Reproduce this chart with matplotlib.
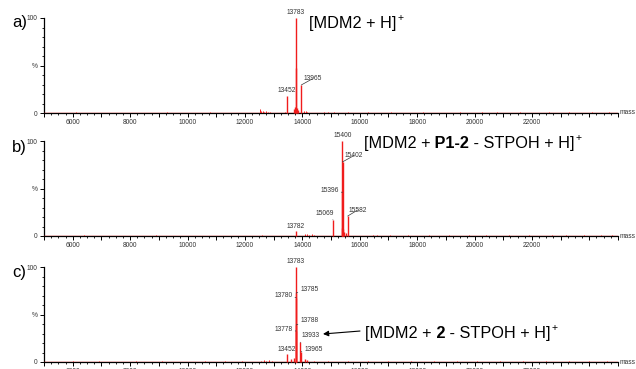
import matplotlib
matplotlib.use("Agg")
import matplotlib.pyplot as plt
import matplotlib.transforms as mtransforms
from matplotlib.ticker import MultipleLocator, FuncFormatter

plt.rcParams['font.family'] = ['Liberation Sans', 'DejaVu Sans']

# ---------------- data ----------------
# panel a  [MDM2 + H]+
peaks_mass_a = [13452, 13775, 13783, 13965, 13720, 13750, 13820, 13850]
peaks_int_a = [18, 47, 100, 29.5, 4, 6, 5, 3]
labels_a = ["13783", "13452", "13965"]
label_mass_a = [13783, 13452, 13965]
label_int_a = [100, 18, 29.5]

noise_mass_a = [12520, 12560, 12620, 12680, 12740, 12800, 12880, 13380, 14050, 14120, 14180,
                14750, 14900, 15100, 15600, 16300, 17100, 18200, 19500, 20250, 20800,
                21600, 22600, 23300, 24100, 24700, 9300, 10800, 6100]
noise_int_a = [4, 2, 2.5, 1.5, 2, 1.5, 1, 1.5, 2, 2.5, 1.5,
               1.5, 1, 1, 1, 0.8, 0.8, 0.8, 0.8, 1.5, 0.8,
               0.8, 0.8, 0.8, 0.8, 0.8, 0.6, 0.6, 0.6]

# panel b  [MDM2 + P1-2 - STPOH + H]+
peaks_mass_b = [13782, 15069, 15396, 15400, 15402, 15582, 15380, 15430, 15470, 15520]
peaks_int_b = [5, 17, 46, 100, 78, 21, 8, 7, 4, 3]
labels_b = ["15400", "15402", "15396", "15069", "15582", "13782"]
label_mass_b = [15400, 15402, 15396, 15069, 15582, 13782]
label_int_b = [100, 78, 46, 17, 21, 5]

noise_mass_b = [14100, 14180, 14250, 14330, 14420, 16450, 16600, 17050, 17700, 18400, 19100,
                19800, 20400, 21200, 21900, 22700, 23200, 23800, 24400, 24800, 6400, 8900, 12600]
noise_int_b = [2, 2.5, 1.5, 2, 1, 1.5, 1, 1, 0.8, 0.8, 0.8,
               0.8, 0.8, 0.8, 0.8, 0.8, 1, 0.8, 0.8, 0.8, 0.8, 0.6, 1]

# panel c  [MDM2 + 2 - STPOH + H]+
peaks_mass_c = [13452, 13778, 13780, 13783, 13785, 13788, 13933, 13965, 13620, 13700, 14080, 14150]
peaks_int_c = [8, 32.6, 67.7, 100, 72.6, 39, 20.7, 10.8, 3, 4, 3, 2]
labels_c = ["13783", "13785", "13780", "13788", "13778", "13933", "13965", "13452"]
label_mass_c = [13783, 13785, 13780, 13788, 13778, 13933, 13965, 13452]
label_int_c = [100, 72.6, 67.7, 39, 32.6, 20.7, 10.8, 8]

noise_mass_c = [6000, 6900, 8200, 9100, 10600, 11300, 11900, 12550, 12650, 12750, 12850, 12950,
                14400, 14900, 15600, 16300, 17000, 17800, 18600, 19400, 20100, 20900,
                21700, 22500, 23300, 24000, 24600]
noise_int_c = [0.8, 0.6, 0.6, 0.6, 0.8, 0.8, 0.8, 1.5, 2, 1.5, 2, 1,
               1, 0.8, 1, 0.8, 0.8, 1, 0.8, 0.8, 0.8, 0.8,
               0.8, 0.8, 0.8, 0.8, 0.8]

xtick_labels = [6000, 8000, 10000, 12000, 14000, 16000, 18000, 20000, 22000]
ytick_values = [0, 50, 100]
ytick_labels = ["0", "%", "100"]

# ---------------- styling ----------------
W, H = 636, 369
RED = '#f01c1c'
GREY = '#333333'
fig = plt.figure(figsize=(W / 100, H / 100), dpi=100)


def px_axes(left, top, right, bottom):
    return [left / W, 1 - bottom / H, (right - left) / W, (bottom - top) / H]


boxes = [(44, 18, 618, 113), (44, 141, 618, 236), (44, 267, 618, 362)]
axes = [fig.add_axes(px_axes(*b)) for b in boxes]


def style_axis(ax):
    ax.set_xlim(5000, 25000)
    ax.set_ylim(0, 100)
    for s in ['top', 'right']:
        ax.spines[s].set_visible(False)
    ax.spines['left'].set_linewidth(0.9)
    ax.spines['bottom'].set_linewidth(0.9)
    ax.xaxis.set_major_locator(MultipleLocator(1000))
    ax.xaxis.set_minor_locator(MultipleLocator(250))
    ax.xaxis.set_major_formatter(FuncFormatter(
        lambda v, p: str(int(v)) if int(round(v)) in xtick_labels else ''))
    ax.set_yticks(ytick_values)
    ax.set_yticklabels(ytick_labels)
    ax.yaxis.set_minor_locator(MultipleLocator(10))
    ax.tick_params(axis='both', which='major', length=3, width=0.7, direction='out',
                   labelsize=4.8, labelcolor=GREY, pad=1.5)
    ax.tick_params(axis='both', which='minor', length=1.6, width=0.6, direction='out')
    ax.text(1.003, 0, 'mass', transform=ax.transAxes, fontsize=4.8, color=GREY,
            ha='left', va='center')


def draw_spectrum(ax, pm, pi, nm, ni):
    ax.axhline(0, color=RED, lw=1.0, zorder=3)
    ax.vlines(nm, 0, ni, color=RED, lw=0.7, zorder=3)
    ax.vlines(pm, 0, pi, color=RED, lw=1.0, zorder=4, clip_on=False)


def peak_label(ax, text, m, h, style):
    kw = dict(fontsize=4.8, color=GREY, textcoords='offset points', zorder=5,
              annotation_clip=False)
    if style == 'top':
        ax.annotate(text, (m, h), xytext=(0, 1.2), ha='center', va='bottom', **kw)
    else:
        dx, dy, ha = style
        ax.annotate(text, (m, h), xytext=(dx, dy), ha=ha, va='center',
                    arrowprops=dict(arrowstyle='-', color=GREY, lw=0.5,
                                    shrinkA=0, shrinkB=0), **kw)


style_a = ['top', 'top', (1.5, 4.5, 'left')]
style_b = ['top', (1.5, 4.5, 'left'), (-2.8, 1.4, 'right'), (0.8, 4.6, 'right'),
           (0.5, 4.3, 'left'), 'top']
style_c = ['top', (3.2, 2.9, 'left'), (-2.7, 1.4, 'right'), (3.2, 3.0, 'left'),
           (-2.5, 1.4, 'right'), (0.6, 4.6, 'left'), (2.4, 1.9, 'left'), 'top']

panels = [
    (peaks_mass_a, peaks_int_a, noise_mass_a, noise_int_a, labels_a, label_mass_a, label_int_a, style_a),
    (peaks_mass_b, peaks_int_b, noise_mass_b, noise_int_b, labels_b, label_mass_b, label_int_b, style_b),
    (peaks_mass_c, peaks_int_c, noise_mass_c, noise_int_c, labels_c, label_mass_c, label_int_c, style_c),
]

for ax, (pm, pi, nm, ni, lt, lm, li, st) in zip(axes, panels):
    style_axis(ax)
    draw_spectrum(ax, pm, pi, nm, ni)
    for t, m, h, s in zip(lt, lm, li, st):
        peak_label(ax, t, m, h, s)

# panel letters
for letter, base in zip(['a)', 'b)', 'c)'], [27, 152, 277]):
    fig.text(12 / W, 1 - base / H, letter, fontsize=12, ha='left', va='baseline')

# rich annotation text
renderer = fig.canvas.get_renderer()
ident = mtransforms.IdentityTransform()


def rich_text(x_px, base_px, pieces, size=11.7):
    x = x_px
    y = H - base_px
    for txt, wt in pieces:
        t = fig.text(x, y, txt, fontsize=size, fontweight=wt, transform=ident,
                     ha='left', va='baseline')
        bb = t.get_window_extent(renderer)
        x = bb.x1
    fig.text(x + 1, y + 7, '+', fontsize=7.5, transform=ident, ha='left', va='baseline')


rich_text(309, 28, [('[MDM2 + H]', 'normal')])
rich_text(364, 148, [('[MDM2 +', 'normal'), (' P1-2', 'bold'), (' - STPOH + H]', 'normal')])
rich_text(365, 338, [('[MDM2 +', 'normal'), (' 2', 'bold'), (' - STPOH + H]', 'normal')])

# arrow in panel c
axes[2].annotate('', xy=(14721, 29.5), xytext=(16010, 32.6),
                 arrowprops=dict(arrowstyle='-|>', color='black', lw=0.8,
                                 mutation_scale=8, shrinkA=0, shrinkB=0),
                 annotation_clip=False)

fig.savefig('out.png', dpi=100)
